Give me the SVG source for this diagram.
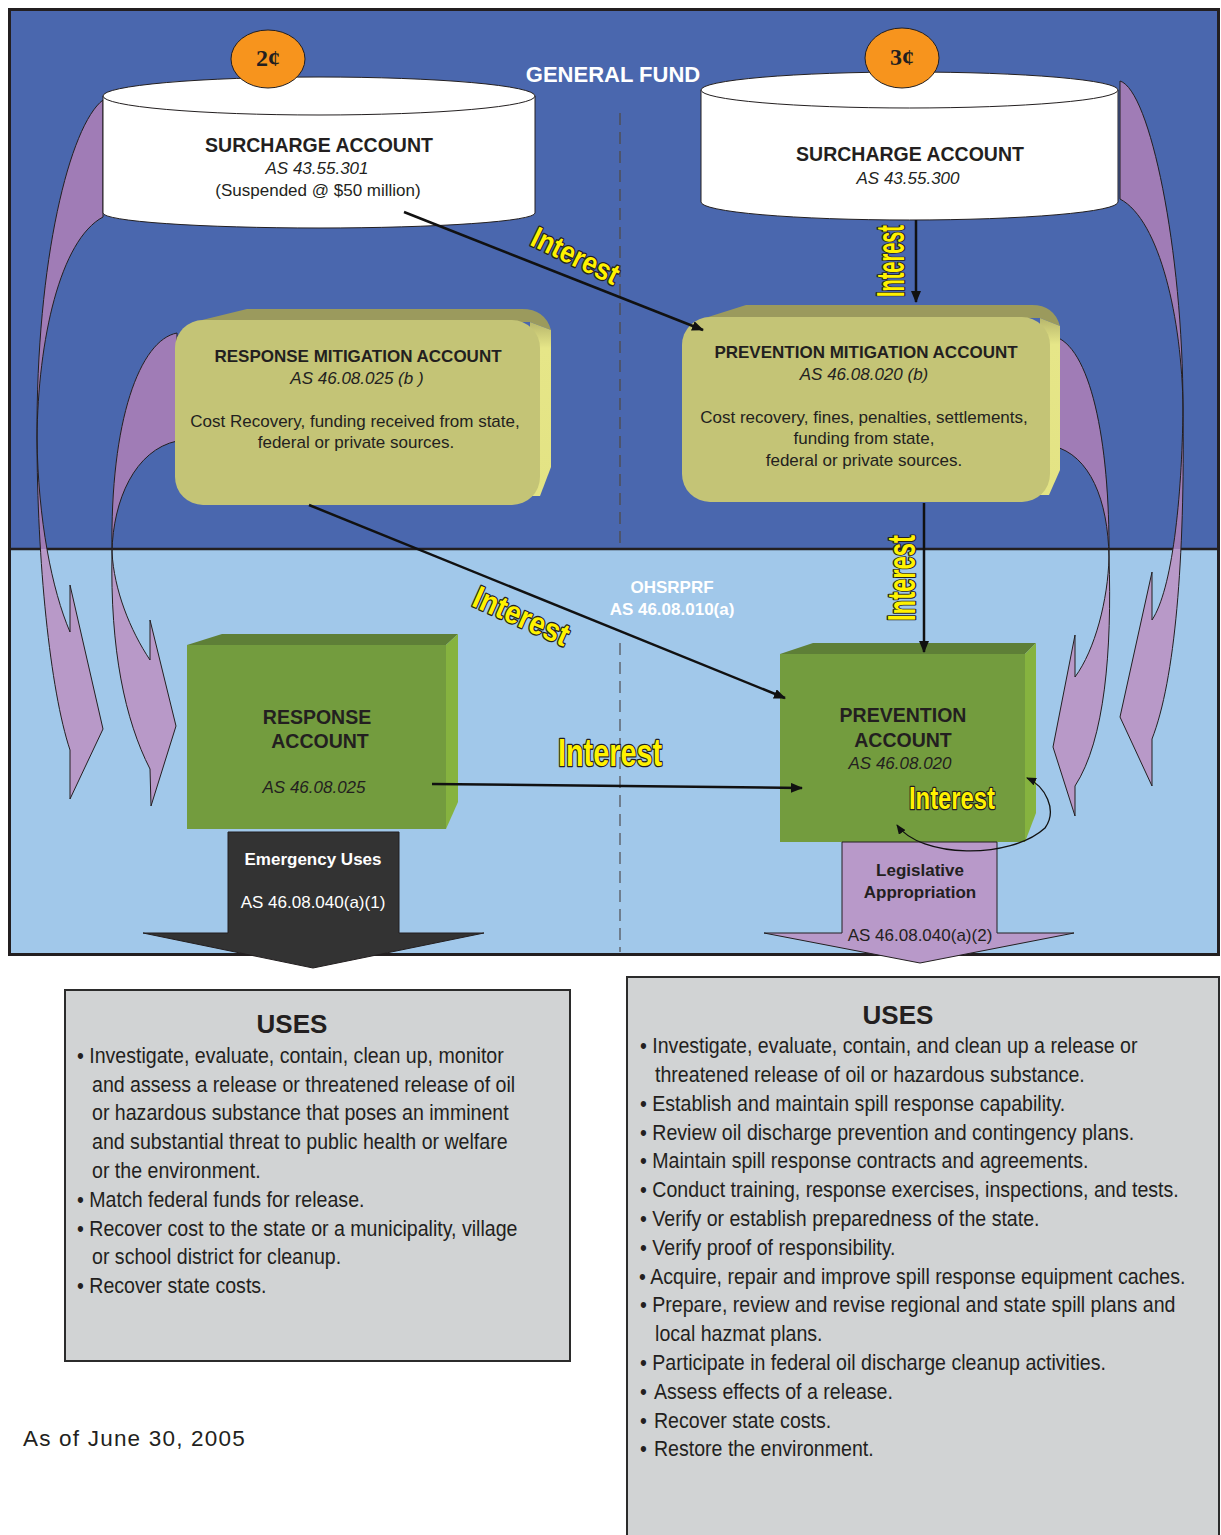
<svg xmlns="http://www.w3.org/2000/svg" width="1221" height="1535" viewBox="0 0 1221 1535">
<style>
.t{font-family:"Liberation Sans",Arial,sans-serif;fill:#231f20}
.w{fill:#ffffff}
.b{font-weight:bold}
.i{font-style:italic}
.c{text-anchor:middle}
.f17{font-size:17px}
.f19{font-size:19.5px}
.int{font-family:"Liberation Sans",Arial,sans-serif;font-weight:bold;fill:#fff200;stroke:#231f20;stroke-width:2.6px;stroke-linejoin:round;paint-order:stroke;text-anchor:middle}
.u{font-family:"Liberation Sans",Arial,sans-serif;font-size:22px;fill:#231f20}
.ln{fill:none;stroke:#111;stroke-width:2.5}
.pa{fill:url(#purp);stroke:#231f20;stroke-width:1}
.khF{fill:#c4c476}
.khT{fill:#9b9a5d}
.khR{fill:url(#khr)}
.gF{fill:#739c3e}
.gT{fill:#5e7f37}
.gR{fill:#86b33f}
.cyl{fill:#ffffff;stroke:#231f20;stroke-width:1}
.coin{fill:#f7941d;stroke:#231f20;stroke-width:1}
</style>
<defs>
<linearGradient id="purp" gradientUnits="userSpaceOnUse" x1="0" y1="0" x2="0" y2="1535">
<stop offset="0" stop-color="#a07cb6"/>
<stop offset="0.3577" stop-color="#a07cb6"/>
<stop offset="0.3577" stop-color="#b899c8"/>
<stop offset="1" stop-color="#b899c8"/>
</linearGradient>
<linearGradient id="khr" x1="0" y1="0" x2="0" y2="1">
<stop offset="0" stop-color="#b7b66c"/>
<stop offset="0.15" stop-color="#e6e688"/>
<stop offset="1" stop-color="#e3e384"/>
</linearGradient>
<marker id="ah" viewBox="0 0 12 10" refX="11" refY="5" markerWidth="12" markerHeight="10" markerUnits="userSpaceOnUse" orient="auto">
<path d="M0,0 L12,5 L0,10 z" fill="#111"/>
</marker>
<marker id="ahs" viewBox="0 0 10 8" refX="9" refY="4" markerWidth="10" markerHeight="8" markerUnits="userSpaceOnUse" orient="auto-start-reverse">
<path d="M0,0 L10,4 L0,8 z" fill="#111"/>
</marker>
</defs>

<rect x="0" y="0" width="1221" height="1535" fill="#ffffff"/>

<g id="background">
<rect x="8" y="8" width="1212" height="541" fill="#4a67ae"/>
<rect x="8" y="549" width="1212" height="406" fill="#a1c8ea"/>
<line x1="620" y1="113" x2="620" y2="548" stroke="#4f4f55" stroke-width="1.5" stroke-dasharray="12 7"/>
<line x1="620" y1="643" x2="620" y2="952" stroke="#5f6670" stroke-width="1.5" stroke-dasharray="12 7"/>
<line x1="8" y1="549" x2="1220" y2="549" stroke="#231f20" stroke-width="2.5"/>
<rect x="9.5" y="9.5" width="1209" height="945" fill="none" stroke="#231f20" stroke-width="3"/>
<text class="t w b c" x="613" y="82" font-size="22" style="fill:#ffffff">GENERAL FUND</text>
<text class="t b c f17" x="672" y="593" style="fill:#ffffff">OHSRPRF</text>
<text class="t b c f17" x="672" y="615" style="fill:#ffffff">AS 46.08.010(a)</text>
</g>

<g id="flow-arrows">
<path class="pa" d="M103,100 C70,125 36,260 37,438 C37,560 50,690 70,750 L70,799 L103,729 L70,585 L70,632 C52,590 38,520 37,438 C38,340 60,240 103,217 Z"/>
<path class="pa" d="M177,333 C140,340 110,420 112,552 C110,650 125,720 150,769 L151,806 L176,726 L150,620 L150,660 C130,630 114,590 112,552 C113,500 135,450 177,441 Z"/>
<path class="pa" d="M1120,81 C1150,90 1183,250 1183,408 C1185,560 1175,680 1152,739 L1152,786 L1120,717 L1152,572 L1152,620 C1172,590 1182,500 1183,408 C1182,320 1160,220 1120,199 Z"/>
<path class="pa" d="M1053,336 C1090,345 1110,440 1109,557 C1112,650 1105,740 1075,786 L1075,816 L1053,747 L1075,635 L1075,677 C1095,650 1108,600 1109,557 C1108,500 1090,455 1053,446 Z"/>
</g>

<g id="surcharge-301">
<path class="cyl" d="M103,96 L103,213 A216,15 0 0 0 535,213 L535,96 Z"/>
<ellipse class="cyl" cx="319" cy="96" rx="216" ry="19"/>
<text class="t b c f19" x="319" y="152">SURCHARGE ACCOUNT</text>
<text class="t i c f17" x="317" y="174">AS 43.55.301</text>
<text class="t c f17" x="318" y="196">(Suspended @ $50 million)</text>
</g>
<g id="coin-2">
<ellipse class="coin" cx="268" cy="59" rx="37" ry="29"/>
<text x="268" y="66" text-anchor="middle" font-family="Liberation Serif, serif" font-weight="bold" font-size="24" fill="#231f20">2¢</text>
</g>

<g id="surcharge-300">
<path class="cyl" d="M701,90 L701,202 A208.5,18 0 0 0 1118,202 L1118,90 Z"/>
<ellipse class="cyl" cx="909.5" cy="90" rx="208.5" ry="18"/>
<text class="t b c f19" x="910" y="161">SURCHARGE ACCOUNT</text>
<text class="t i c f17" x="908" y="184">AS 43.55.300</text>
</g>
<g id="coin-3">
<ellipse class="coin" cx="902" cy="58" rx="37" ry="30"/>
<text x="902" y="65" text-anchor="middle" font-family="Liberation Serif, serif" font-weight="bold" font-size="24" fill="#231f20">3¢</text>
</g>

<g id="response-mitigation">
<path class="khT" d="M198,321 L247,309 L522,309 Q545,309 551,330 L530,322 Z"/>
<path class="khR" d="M530,322 L551,330 L551,467 L540,496 L530,496 Z"/>
<rect class="khF" x="175" y="320" width="365" height="185" rx="28"/>
<text class="t b c f17" x="358" y="362">RESPONSE MITIGATION ACCOUNT</text>
<text class="t i c f17" x="357" y="384">AS 46.08.025 (b )</text>
<text class="t c f17" x="355" y="427">Cost Recovery, funding received from state,</text>
<text class="t c f17" x="356" y="448">federal or private sources.</text>
</g>

<g id="prevention-mitigation">
<path class="khT" d="M705,318 L746,305 L1032,305 Q1054,305 1060,326 L1040,318 Z"/>
<path class="khR" d="M1040,318 L1060,326 L1060,470 L1049,495 L1040,495 Z"/>
<rect class="khF" x="682" y="317" width="368" height="185" rx="28"/>
<text class="t b c f17" x="866" y="358">PREVENTION MITIGATION ACCOUNT</text>
<text class="t i c f17" x="864" y="380">AS 46.08.020 (b)</text>
<text class="t c f17" x="864" y="423">Cost recovery, fines, penalties, settlements,</text>
<text class="t c f17" x="864" y="444">funding from state,</text>
<text class="t c f17" x="864" y="466">federal or private sources.</text>
</g>

<g id="response-account">
<polygon class="gT" points="187,645 222,634 458,634 446,645"/>
<polygon class="gR" points="446,645 458,634 458,802 446,829"/>
<rect class="gF" x="187" y="645" width="259" height="184"/>
<text class="t b c f19" x="317" y="724">RESPONSE</text>
<text class="t b c f19" x="320" y="748">ACCOUNT</text>
<text class="t i c f17" x="314" y="793">AS 46.08.025</text>
</g>

<g id="prevention-account">
<polygon class="gT" points="780,654 813,643 1036,643 1025,654"/>
<polygon class="gR" points="1025,654 1036,643 1036,813 1025,842"/>
<rect class="gF" x="780" y="654" width="245" height="188"/>
<text class="t b c f19" x="903" y="722">PREVENTION</text>
<text class="t b c f19" x="903" y="747">ACCOUNT</text>
<text class="t i c f17" x="900" y="769">AS 46.08.020</text>
</g>

<g id="emergency-uses">
<polygon points="228,832 399,832 399,933 484,933 313,968 143,933 228,933" fill="#333333" stroke="#231f20" stroke-width="1"/>
<text class="t b c f17" x="313" y="865" style="fill:#ffffff">Emergency Uses</text>
<text class="t c f17" x="313" y="908" style="fill:#ffffff">AS 46.08.040(a)(1)</text>
</g>

<g id="legislative-appropriation">
<polygon points="842,842 997,842 997,933 1074,933 920,963 764,933 842,933" fill="#b899c9" stroke="#231f20" stroke-width="1"/>
<text class="t b c f17" x="920" y="876">Legislative</text>
<text class="t b c f17" x="920" y="898">Appropriation</text>
<text class="t c f17" x="920" y="941">AS 46.08.040(a)(2)</text>
</g>

<g id="connectors">
<line class="ln" x1="404" y1="212" x2="703" y2="330" marker-end="url(#ah)"/>
<line class="ln" x1="916" y1="220" x2="916" y2="302" marker-end="url(#ah)"/>
<line class="ln" x1="309" y1="505" x2="785" y2="698" marker-end="url(#ah)"/>
<line class="ln" x1="924" y1="503" x2="924" y2="652" marker-end="url(#ah)"/>
<line class="ln" x1="432" y1="784" x2="802" y2="788" marker-end="url(#ah)"/>
<path d="M897,825 C920,858 1010,860 1045,828 C1058,810 1045,786 1027,778" fill="none" stroke="#111" stroke-width="1.3" marker-start="url(#ahs)" marker-end="url(#ahs)"/>
</g>

<g id="interest-labels">
<text class="int" transform="translate(571,265) rotate(26)" font-size="30" textLength="94" lengthAdjust="spacingAndGlyphs">Interest</text>
<text class="int" transform="translate(904,261) rotate(-90)" font-size="38" textLength="72" lengthAdjust="spacingAndGlyphs">Interest</text>
<text class="int" transform="translate(517,626) rotate(24)" font-size="32" textLength="102" lengthAdjust="spacingAndGlyphs">Interest</text>
<text class="int" transform="translate(915,578) rotate(-90)" font-size="39" textLength="86" lengthAdjust="spacingAndGlyphs">Interest</text>
<text class="int" x="610" y="766" font-size="38" textLength="104" lengthAdjust="spacingAndGlyphs">Interest</text>
<text class="int" x="952" y="809" font-size="31" textLength="86" lengthAdjust="spacingAndGlyphs">Interest</text>
</g>

<g id="uses-left">
<rect x="65" y="990" width="505" height="371" fill="#d1d3d4" stroke="#2b2b2b" stroke-width="2"/>
<text class="t b c" x="292" y="1033" font-size="26">USES</text>
<g transform="scale(0.89,1)" class="u">
<text x="86.5" y="1063">• Investigate, evaluate, contain, clean up, monitor</text>
<text x="103.4" y="1092">and assess a release or threatened release of oil</text>
<text x="103.4" y="1120">or hazardous substance that poses an imminent</text>
<text x="103.4" y="1149">and substantial threat to public health or welfare</text>
<text x="103.4" y="1178">or the environment.</text>
<text x="86.5" y="1207">• Match federal funds for release.</text>
<text x="86.5" y="1236">• Recover cost to the state or a municipality, village</text>
<text x="103.4" y="1264">or school district for cleanup.</text>
<text x="86.5" y="1293">• Recover state costs.</text>
</g>
</g>

<g id="uses-right">
<rect x="627" y="977" width="592" height="570" fill="#d1d3d4" stroke="#2b2b2b" stroke-width="2"/>
<text class="t b c" x="898" y="1024" font-size="26">USES</text>
<g transform="scale(0.89,1)" class="u">
<text x="719.1" y="1053">• Investigate, evaluate, contain, and clean up a release or</text>
<text x="736" y="1082">threatened release of oil or hazardous substance.</text>
<text x="719.1" y="1111">• Establish and maintain spill response capability.</text>
<text x="719.1" y="1140">• Review oil discharge prevention and contingency plans.</text>
<text x="719.1" y="1168">• Maintain spill response contracts and agreements.</text>
<text x="719.1" y="1197">• Conduct training, response exercises, inspections, and tests.</text>
<text x="719.1" y="1226">• Verify or establish preparedness of the state.</text>
<text x="719.1" y="1255">• Verify proof of responsibility.</text>
<text x="718" y="1284">• Acquire, repair and improve spill response equipment caches.</text>
<text x="719.1" y="1312">• Prepare, review and revise regional and state spill plans and</text>
<text x="736" y="1341">local hazmat plans.</text>
<text x="719.1" y="1370">• Participate in federal oil discharge cleanup activities.</text>
<text x="719.1" y="1399">•</text><text x="734.8" y="1399">Assess effects of a release.</text>
<text x="719.1" y="1428">•</text><text x="734.8" y="1428">Recover state costs.</text>
<text x="719.1" y="1456">•</text><text x="734.8" y="1456">Restore the environment.</text>
</g>
</g>

<g id="date-note">
<text class="t" x="23" y="1446" font-size="22.5" letter-spacing="1.2">As of June 30, 2005</text>
</g>
</svg>
